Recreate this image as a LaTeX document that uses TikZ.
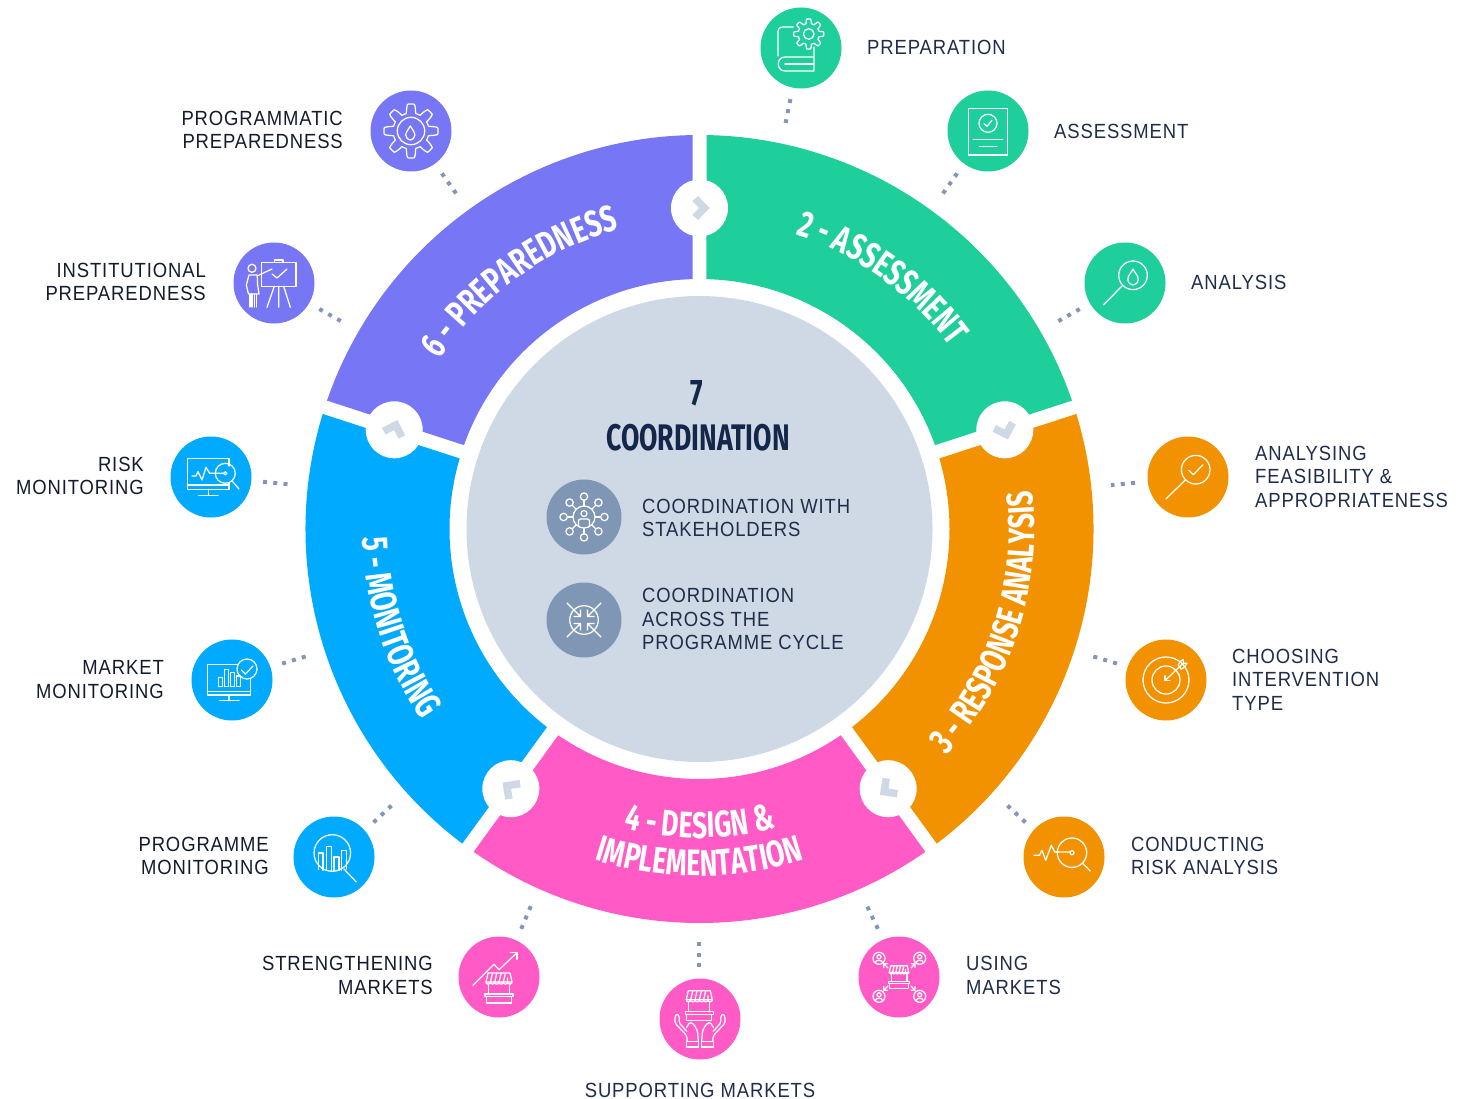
\documentclass[tikz,border=0pt]{standalone}
\usepackage{fontspec}
\usetikzlibrary{decorations.text}
\newfontfamily\labelfont[FakeStretch=0.9,LetterSpace=4.4]{Liberation Sans}
\newfontfamily\headfont[FakeStretch=0.72]{Fira Sans}
\newcommand{\ringfont}{\color{white}\headfont\bfseries\fontsize{37pt}{37pt}\selectfont}
\definecolor{cgreen}{HTML}{1ECE9B}
\definecolor{corange}{HTML}{F39200}
\definecolor{cpink}{HTML}{FF5AC6}
\definecolor{cblue}{HTML}{00AAFF}
\definecolor{cpurple}{HTML}{7776F4}
\definecolor{chub}{HTML}{CFD9E5}
\definecolor{cicon}{HTML}{7F97B5}
\definecolor{cdot}{HTML}{8297B8}
\definecolor{cnavy}{HTML}{1F2C4A}
\definecolor{chead}{HTML}{14264A}
\newcommand{\dropat}[3]{\draw[ln,shift={(#1,#2)},scale=#3] (0,1) .. controls (-.2,.55) and (-.65,.2) .. (-.65,-.3) .. controls (-.65,-.72) and (-.3,-1) .. (0,-1) .. controls (.3,-1) and (.65,-.72) .. (.65,-.3) .. controls (.65,.2) and (.2,.55) .. (0,1) -- cycle;}
\newcommand{\gearat}[5]{\draw[ln,shift={(#1,#2)}] plot[domain=0:358,samples=180] (\x:{#3+#4*max(-1,min(1,2*cos(#5*\x)))}) -- cycle;}
\newcommand{\shopat}[3]{\begin{scope}[shift={(#1,#2)},scale=#3]
 \draw[ln] (-11,15) -- (11,15) -- (13,6) -- (-13,6) -- cycle;
 \draw[ln] (-6.5,15) -- (-8.6,6) (-2.2,15) -- (-4.3,6)  (2.2,15) -- (0,6) (6.5,15) -- (4.3,6) (8.6,6) -- (8.6,10);
 \draw[ln] (-13,6) arc[start angle=180,end angle=360,radius=2.17] arc[start angle=180,end angle=360,radius=2.17] arc[start angle=180,end angle=360,radius=2.17] arc[start angle=180,end angle=360,radius=2.17] arc[start angle=180,end angle=360,radius=2.17] arc[start angle=180,end angle=360,radius=2.17];
 \draw[ln] (-10.5,3.5) -- (-10.5,-6) (10.5,3.5) -- (10.5,-6);
 \draw[ln] (-14,-6) rectangle (14,-8.5);
 \draw[ln] (-12.5,-8.5) rectangle (12.5,-15);
\end{scope}}
\newcommand{\personat}[2]{\begin{scope}[shift={(#1,#2)}]
 \draw[ln] (0,0) circle[radius=6];
 \draw[ln] (0,1.5) circle[radius=2];
 \draw[ln] (-3.6,-4.6) .. controls (-3.6,-1) and (3.6,-1) .. (3.6,-4.6);
\end{scope}}
\colorlet{cleft}{cnavy!60!black}
\tikzset{
 ln/.style={draw=white,line width=1.25pt,line join=round,line cap=round},
 iconball/.style={circle,inner sep=0pt,minimum size=81pt},
 hubball/.style={circle,inner sep=0pt,fill=cicon,minimum size=75pt},
 linkball/.style={circle,inner sep=0pt,fill=white,minimum size=57pt},
 lab/.style={inner sep=0pt,text=cnavy,font=\labelfont\fontsize{20.5pt}{23.5pt}\selectfont},
 labr/.style={lab,anchor=west,align=left},
 labl/.style={lab,anchor=east,align=right,text=cleft},
 dots/.style={draw=cdot,line width=4pt,dash pattern=on 4pt off 6.3pt,shorten <=-2pt,shorten >=-2pt},
 chev/.style={draw=chub,line width=7.5pt,miter limit=10,line cap=butt,line join=miter},
 ringtext/.style={decorate,decoration={text along path,text align={center},text={#1}}},
 pics/bookgear/.style={code={
  \draw[ln,rounded corners=4pt] (-7.5,21) -- (-23,21) -- (-23,-8);
  \draw[ln] (13,1) -- (13,-23) -- (-16,-23) .. controls (-25,-23) and (-25,-9) .. (-16,-9) -- (13,-9);
  \draw[ln] (-16,-16) -- (13,-16);
  \gearat{7.7}{14}{12.8}{2.3}{8}
  \draw[ln] (7.7,14) circle[radius=5.3];
 }},
 pics/docheck/.style={code={
  \draw[ln] (-19.7,22.7) rectangle (19.7,-24);
  \draw[ln] (0,7.7) circle[radius=9];
  \draw[ln] (-4,7.3) -- (-1,4.7) -- (4,10.7);
  \draw[ln] (-14.7,-8.3) -- (14.7,-8.3) (-8.7,-15.7) -- (8.7,-15.7);
 }},
 pics/magdrop/.style={code={
  \draw[ln] (8,7.7) circle[radius=14.3];
  \draw[ln] (-2.4,-2.4) -- (-21.7,-22);
  \dropat{8}{6}{8}
 }},
 pics/magcheck/.style={code={
  \draw[ln] (7.7,7.3) circle[radius=14.3];
  \draw[ln] (-2.6,-2.8) -- (-22,-22);
  \draw[ln] (0.7,6.7) -- (5.3,2.3) -- (15,12.3);
 }},
 pics/target/.style={code={
  \draw[ln] (0,0) circle[radius=23] (0,0) circle[radius=14];
  \draw[ln] (-1,-.7) -- (17,16.7);
  \draw[ln] (-1,4.3) -- (-1,-.7) -- (4,-.7);
  \draw[ln] (12,15) -- (14.3,18.3) -- (17,20.7) -- (17.7,16.7) -- (21,16.7) -- (18.7,13.3) -- (15.3,10.7) -- cycle;
 }},
 pics/riskmag/.style={code={
  \draw[ln] (-30,1.7) -- (-24.5,1.7) -- (-22,6.7) -- (-18.3,-3.3) -- (-12.7,11.7) -- (-9.3,5) -- (6,5);
  \draw[ln] (8,4.3) circle[radius=14.7] (8,4.3) circle[radius=2];
  \draw[ln] (18.3,-6) -- (26.3,-14);
 }},
 pics/usemarket/.style={code={
  \shopat{0}{0}{.75}
  \personat{-20}{18.7}\personat{20.7}{18.7}\personat{-20}{-19.3}\personat{20.7}{-19.3}
  \draw[ln] (-11,9) -- (-15.3,13.3) (-15.3,9.5) -- (-15.3,13.3) -- (-11.5,13.3);
  \draw[ln] (12,9) -- (16,13.3) (16,9.5) -- (16,13.3) -- (12.2,13.3);
  \draw[ln] (-11,-9) -- (-15.3,-13.3) (-15.3,-9.5) -- (-15.3,-13.3) -- (-11.5,-13.3);
  \draw[ln] (12,-9) -- (16,-13.3) (16,-9.5) -- (16,-13.3) -- (12.2,-13.3);
 }},
 pics/hands/.style={code={
  \shopat{-.7}{13.3}{1}
  \foreach \s in {1,-1}{
   \begin{scope}[xscale=\s]
    \draw[ln] (1.7,-22.3) rectangle (13.3,-28);
    \draw[ln,rounded corners=1.5pt] (12.7,-22.3) -- (13.3,-16.7) -- (25,-4) -- (25,2.7) -- (22.7,5.3) -- (20.7,2.7) -- (20.7,-4) -- (13.3,-12.3);
    \draw[ln,rounded corners=1.5pt] (13.5,-8.5) -- (10,-3) -- (6,-5.5) -- (2.5,-12) -- (1.7,-22.3);
   \end{scope}}
 }},
 pics/growmarket/.style={code={
  \shopat{0}{-11}{1}
  \draw[ln] (-26,-8.3) -- (-5,12.7) -- (0,7.3) -- (18,24.3);
  \draw[ln] (11.3,24.3) -- (18,24.3) -- (18,17.7);
 }},
 pics/progmon/.style={code={
  \draw[ln] (-1.7,4) circle[radius=18.3];
  \draw[ln] (-15.7,-12.5) -- (-15.7,4) -- (-11,4) -- (-11,-13.3) (-7.7,-13.3) -- (-7.7,10.7) -- (-2.7,10.7) -- (-2.7,-13.3) (0,-13.3) -- (0,0) -- (5,0) -- (5,-13.3) (7.3,-13.3) -- (7.3,6.7) -- (12.3,6.7) -- (12.3,-12);
  \draw[ln] (9.7,-11.7) -- (22.3,-25);
 }},
 pics/marketmon/.style={code={
  \draw[ln] (5,15.7) -- (-24.7,15.7) -- (-24.7,-15) -- (18.7,-15) -- (18.7,1);
  \draw[ln] (-24.7,-11.7) -- (18.7,-11.7);
  \draw[ln] (-3,-15) -- (-3,-20.7) (-12.3,-20.7) -- (7,-20.7);
  \foreach \xa/\ya in {-13.7/2.7,-7.7/10.7,-1.7/7.3,4.3/4}{
   \draw[ln] (\xa,-6.7) rectangle ({\xa+4},\ya);}
  \draw[ln] (15,11) circle[radius=10];
  \draw[ln] (9.3,10) -- (13.3,6) -- (21,14);
 }},
 pics/riskmon/.style={code={
  \draw[ln] (18,11) -- (18,18.7) -- (-23.3,18.7) -- (-23.3,-12.3) -- (18,-12.3) -- (18,-6);
  \draw[ln] (-23.3,-8) -- (18,-8);
  \draw[ln] (-2.3,-12.3) -- (-2.3,-18.3) (-12.3,-18.3) -- (7,-18.3);
  \draw[ln] (-19,1) -- (-15,1) -- (-13,5.3) -- (-9,-3) -- (-5,9.7) -- (-1.3,3.7) -- (12.5,3.7);
  \draw[ln] (14.3,3.7) circle[radius=10] (14.3,3.7) circle[radius=1.7];
  \draw[ln] (21,-3.8) -- (28,-12);
 }},
 pics/teacher/.style={code={
  \draw[ln] (-12.7,20.7) rectangle (22,-3.3);
  \draw[ln] (.7,20.7) rectangle (9,23);
  \draw[ln] (-2,9) -- (3,5) -- (13,14);
  \draw[ln] (4.7,-3.3) -- (4.7,-24.3) (.3,-3.3) -- (-7,-24.3) (9.7,-3.3) -- (16.3,-24.3);
  \draw[ln] (-22,14.7) circle[radius=4];
  \draw[ln] (-16.3,7.3) -- (-2,14);
  \draw[ln] (-16.7,8) -- (-25,8) -- (-27.7,-2) -- (-25.5,-11) -- (-15,-11) -- (-16.5,-1) -- cycle;
  \draw[ln] (-24,-11) -- (-24,-24) (-22,-11) -- (-22,-24) (-19.5,-11) -- (-19.5,-24) (-17.7,-11) -- (-17.7,-24);
 }},
 pics/geardrop/.style={code={
  \gearat{0}{0}{22.5}{4.5}{8}
  \draw[ln] (0,0) circle[radius=13.7];
  \dropat{-.7}{-2}{7}
 }},
 pics/stakeholders/.style={code={
  \draw[ln] (0,0) circle[radius=11];
  \draw[ln] (0,3.5) circle[radius=3];
  \draw[ln,rounded corners=2pt] (-5.5,-8.5) -- (-5.5,-2) -- (5.5,-2) -- (5.5,-8.5);
  \foreach \t in {0,45,...,315}{
   \draw[ln] (\t:11) -- (\t:16.7);
   \draw[ln] (\t:20.4) circle[radius=3.7];}
 }},
 pics/converge/.style={code={
  \draw[ln] (0,0) circle[radius=14.3];
  \foreach \t in {0,90,180,270}{
   \begin{scope}[rotate=\t]
    \draw[ln] (17,17) -- (3.5,3.5) (3.5,10) -- (3.5,3.5) -- (10,3.5);
   \end{scope}}
 }},
}
\begin{document}
\begin{tikzpicture}[x=1pt,y=1pt]
\useasboundingbox (0,0) rectangle (1466,-1099);
% central hub
\node[circle,inner sep=0pt,fill=chub,minimum size=466pt] (hub) at (699.5,-529) {};
% ring
\begin{scope}[shift={(699.5,-529)}]
\foreach \aa/\bb/\col in {90/18/cgreen,18/-54/corange,-54/-126/cpink,-126/-198/cblue,162/90/cpurple}{
 \fill[\col] ({\aa-1.02}:394) arc[start angle={\aa-1.02},end angle={\bb+1.02},radius=394] -- ({\bb+1.6}:250) arc[start angle={\bb+1.6},end angle={\aa-1.6},radius=250] -- cycle;
}
\path[ringtext={|\ringfont|2 - ASSESSMENT}] (96:310) arc[start angle=96,end angle=12,radius=310];
\path[ringtext={|\ringfont|3 - RESPONSE ANALYSIS}] (-62:335) arc[start angle=-62,end angle=26,radius=335];
\path[ringtext={|\ringfont|4 - DESIGN {\&}}] (-125:309) arc[start angle=-125,end angle=-55,radius=309];
\path[ringtext={|\ringfont|IMPLEMENTATION}] (-125:347) arc[start angle=-125,end angle=-55,radius=347];
\path[ringtext={|\ringfont|5 - MONITORING}] (158:337) arc[start angle=158,end angle=238,radius=337];
\path[ringtext={|\ringfont|6 - PREPAREDNESS}] (170:310) arc[start angle=170,end angle=82,radius=310];
% link circles and chevrons
\foreach \nm/\t in {la/90,lb/18,lc/-54,ld/-126,le/162}{
 \node[linkball] (\nm) at (\t:321) {};
 \draw[chev,shift={(\t:321)},rotate={\t-90}] (-4.5,9.5) -- (5,0) -- (-4.5,-9.5);
}
\end{scope}
% center text
\node[inner sep=0pt,text=chead,font=\headfont\bfseries\fontsize{37pt}{37pt}\selectfont] (seven) at (697,-393) {7};
\node[inner sep=0pt,text=chead,font=\headfont\bfseries\fontsize{37pt}{37pt}\selectfont] (coord) at (698,-438) {COORDINATION};
\node[hubball] (h1) at (584,-517) {};
\node[hubball] (h2) at (584,-620) {};
\pic at (h1) {stakeholders};
\pic at (h2) {converge};
\node[labr] (th1) at (642,-518) {COORDINATION WITH\\STAKEHOLDERS};
\node[labr] (th2) at (642,-619) {COORDINATION\\ACROSS THE\\PROGRAMME CYCLE};
% icon balls
\node[iconball,fill=cgreen] (n1) at (801,-48) {};
\node[iconball,fill=cgreen] (n2) at (988,-131) {};
\node[iconball,fill=cgreen] (n3) at (1125,-283) {};
\node[iconball,fill=corange] (n4) at (1188,-477) {};
\node[iconball,fill=corange] (n5) at (1166,-680) {};
\node[iconball,fill=corange] (n6) at (1064,-857) {};
\node[iconball,fill=cpink] (n7) at (899,-977) {};
\node[iconball,fill=cpink] (n8) at (700,-1019) {};
\node[iconball,fill=cpink] (n9) at (499,-977) {};
\node[iconball,fill=cblue] (n10) at (334,-857) {};
\node[iconball,fill=cblue] (n11) at (232,-680) {};
\node[iconball,fill=cblue] (n12) at (211,-477) {};
\node[iconball,fill=cpurple] (n13) at (274,-283) {};
\node[iconball,fill=cpurple] (n14) at (411,-131) {};
\pic at (n1) {bookgear};
\pic at (n2) {docheck};
\pic at (n3) {magdrop};
\pic at (n4) {magcheck};
\pic at (n5) {target};
\pic at (n6) {riskmag};
\pic at (n7) {usemarket};
\pic at (n8) {hands};
\pic at (n9) {growmarket};
\pic at (n10) {progmon};
\pic at (n11) {marketmon};
\pic at (n12) {riskmon};
\pic at (n13) {teacher};
\pic at (n14) {geardrop};
% labels
\node[labr] (t1) at (867,-47) {PREPARATION};
\node[labr] (t2) at (1054,-131) {ASSESSMENT};
\node[labr] (t3) at (1191,-282.5) {ANALYSIS};
\node[labr] (t4) at (1255,-476.5) {ANALYSING\\FEASIBILITY \&\\APPROPRIATENESS};
\node[labr] (t5) at (1232,-679.5) {CHOOSING\\INTERVENTION\\TYPE};
\node[labr] (t6) at (1131,-856) {CONDUCTING\\RISK ANALYSIS};
\node[labr] (t7) at (966,-975.5) {USING\\MARKETS};
\node[lab,anchor=center] (t8) at (700,-1090) {SUPPORTING MARKETS};
\node[labl] (t9) at (433,-975.5) {STRENGTHENING\\MARKETS};
\node[labl] (t10) at (269,-856) {PROGRAMME\\MONITORING};
\node[labl] (t11) at (164,-679.5) {MARKET\\MONITORING};
\node[labl] (t12) at (144,-476) {RISK\\MONITORING};
\node[labl] (t13) at (206,-282) {INSTITUTIONAL\\PREPAREDNESS};
\node[labl] (t14) at (343,-130) {PROGRAMMATIC\\PREPAREDNESS};
% dotted connectors
\foreach \i/\xa/\ya/\xb/\yb in {1/790/101/786/121,2/956/175/944/192,3/1078/310/1059.5/320.5,4/1133/483/1113/485,5/1115/663/1095/657,6/1024/821/1008/806,7/877/927/868/908,8/699/965/699/944,9/522/927/530/908,10/375/821/390/807,11/284/663/304/657,12/265/482/286/484,13/321/310/339/320,14/443/175/455/192}{
 \coordinate (da\i) at (\xa,-\ya);
 \coordinate (db\i) at (\xb,-\yb);
 \draw[dots] (da\i) -- (db\i);
}
\end{tikzpicture}
\end{document}
